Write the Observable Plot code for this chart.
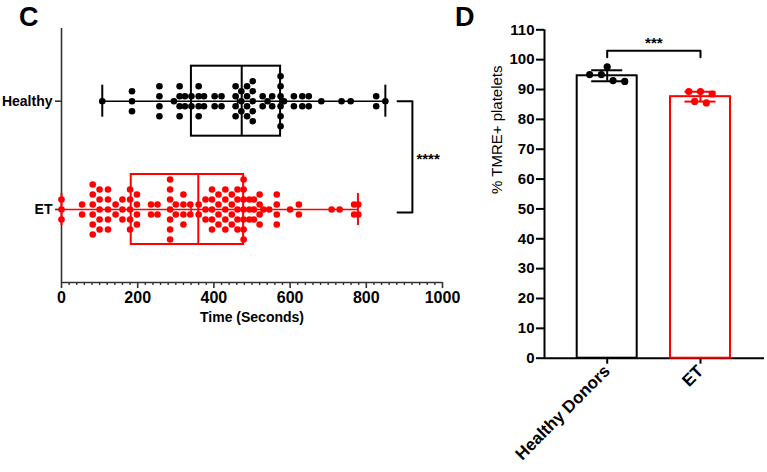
<!DOCTYPE html>
<html lang="en"><head><meta charset="utf-8"><title>Platelet TMRE</title>
<script src="https://cdn.jsdelivr.net/npm/d3@7"></script>
<script src="https://cdn.jsdelivr.net/npm/@observablehq/plot@0.6"></script>
<style>
html,body{margin:0;padding:0;background:#fff;}
#wrap{position:relative;width:767px;height:472px;overflow:hidden;font-family:"Liberation Sans",Arial,Helvetica,sans-serif;}
.panel{position:absolute;top:0;}
.tag{position:absolute;top:4px;font-size:27px;font-weight:bold;line-height:1;color:#000;}
</style></head><body>
<div id="wrap">
  <div id="panelC" class="panel" style="left:0px"></div>
  <div id="panelD" class="panel" style="left:455px"></div>
  <div class="tag" style="left:19px">C</div>
  <div class="tag" style="left:455px">D</div>
</div>
<script>
// ---------------- data: panel C ----------------
const rowNames = ["ET", "Healthy"];              // row index 0 = ET, 1 = Healthy
const healthyTimes = [107, 185,185,185, 257,257,257,257, 295, 310,310,310,310, 324,324,
  341,341, 360,360,360,360, 374,374, 402,402, 420,420, 457,457,457,457, 472,472,472,
  487,487,487,487, 502,502,502,502,502, 528,528, 541, 553,553, 575,575,575,575,575,575,
  584, 610,610, 632,632, 649,649, 682, 735, 759, 826,826, 850];
const etTimes = [0,0,0, 54,54, 82,82,82,82,82,82, 100,100,100,100,100, 122,122,122,122,122,
  142,142, 160,160,160, 180,180,180,180,180, 198,198,198,198, 235,235, 252,252,
  285,285,285,285,285,285,285, 300,300, 320,320,320,320, 338,338, 360,360, 378,378,378,
  395,395,395,395,395, 412,412,412,412, 430,430,430,430,430, 447,447,447,447,
  462,462,462,462,462, 478,478,478,478,478,478,478, 493,493,493, 505,505,505,
  520,520,520,520, 530, 545, 565,565,565,565, 600, 623,623, 709, 730, 768,768, 779,779];
const boxGroups = ["Healthy", "ET"];
const boxMin    = [107, 0];
const boxQ1     = [341, 183];
const boxMedian = [473, 359];
const boxQ3     = [575, 478];
const boxMax    = [850, 778];
const boxMean   = [462, 340];
const timeTicks = [0, 200, 400, 600, 800, 1000];
const timeLabel = "Time (Seconds)";
const sigC = "****";
const sigCx = [882, 921];

// ---------------- data: panel D ----------------
const donorGroups = ["Healthy Donors", "ET"];
const tmreMean = [94.6, 87.6];
const tmreSD   = [1.84, 1.65];
const tmreHealthy = [97.6, 95.0, 95.0, 93.0, 92.7];
const tmreET      = [89.3, 89.3, 88.5, 86.0, 85.5];
const tmreTicks = [0,10,20,30,40,50,60,70,80,90,100,110];
const tmreLabel = "% TMRE+ platelets";
const sigD = "***";

const colorOf = {Healthy: "#000000", ET: "#ff0000"};
const FONT = "Liberation Sans, Arial, Helvetica, sans-serif";

// ---------------- panel C ----------------
{
  const W = 472, H = 330, mL = 61, mR = 30, mT = 28, mB = 48;
  const yDom = [-0.674, 1.671];
  const pxPerRow = (H - mT - mB) / (yDom[1] - yDom[0]);
  const u = px => px / pxPerRow;
  const slot = u(10);
  function stack(values, row, group) {
    const counts = d3.rollup(values, v => v.length, d => d);
    const out = [];
    for (const [v, n] of counts) for (let i = 0; i < n; i++)
      out.push({group, v, y: row + (i - (n - 1) / 2) * slot});
    return out;
  }
  const pts = {Healthy: stack(healthyTimes, 1, "Healthy"), ET: stack(etTimes, 0, "ET")};
  const minor = d3.range(0, 1001, 20).filter(v => v % 200 !== 0);
  const marks = [
    Plot.ruleX([0], {stroke: "#333", strokeWidth: 1.6}),
    Plot.ruleY([yDom[0]], {stroke: "#333", strokeWidth: 1.6}),
    Plot.axisX({ticks: minor, tickSize: 3, tickFormat: () => "", label: null, stroke: "#333", strokeWidth: 1.4}),
    Plot.axisX({ticks: timeTicks, tickSize: 6, tickPadding: 3, tickFormat: d => String(d), label: null, fontSize: 16, fontWeight: "bold", stroke: "#333", strokeWidth: 1.6}),
    Plot.axisY({ticks: [0, 1], tickFormat: i => rowNames[i], tickSize: 6, tickPadding: 3, label: null, fontSize: 14, fontWeight: "bold", stroke: "#333", strokeWidth: 1.6}),
    Plot.text([timeLabel], {frameAnchor: "bottom", dy: 39, fontSize: 14, fontWeight: "bold"})
  ];
  boxGroups.forEach((g, i) => {
    const row = rowNames.indexOf(g), col = colorOf[g];
    const hb = u(35), hc = u(16), hm = u(6);
    marks.push(
      Plot.ruleY([{y: row, x1: boxMin[i], x2: boxMax[i]}], {y: "y", x1: "x1", x2: "x2", stroke: col, strokeWidth: 1.6}),
      Plot.ruleX([boxMin[i], boxMax[i]], {x: d => d, y1: () => row - hc, y2: () => row + hc, stroke: col, strokeWidth: 2}),
      Plot.rect([{x1: boxQ1[i], x2: boxQ3[i], y1: row - hb, y2: row + hb}], {x1: "x1", x2: "x2", y1: "y1", y2: "y2", fill: "none", stroke: col, strokeWidth: 2}),
      Plot.ruleX([boxMedian[i]], {x: d => d, y1: () => row - hb, y2: () => row + hb, stroke: col, strokeWidth: 2}),
      Plot.ruleX([boxMean[i]], {x: d => d, y1: () => row - hm, y2: () => row + hm, stroke: col, strokeWidth: 1.5}),
      Plot.dot(pts[g], {x: "v", y: "y", r: 3.3, fill: col, stroke: null})
    );
  });
  const yb = 0 - u(3);
  marks.push(
    Plot.line([{x: sigCx[0], y: 1}, {x: sigCx[1], y: 1}, {x: sigCx[1], y: yb}, {x: sigCx[0], y: yb}], {x: "x", y: "y", stroke: "#000", strokeWidth: 2}),
    Plot.text([sigC], {x: () => sigCx[1], y: () => 0.5, dx: 4, dy: 4, textAnchor: "start", fontSize: 15, fontWeight: "bold"})
  );
  const svg = Plot.plot({
    width: W, height: H, marginLeft: mL, marginRight: mR, marginTop: mT, marginBottom: mB,
    style: {background: "transparent", fontFamily: FONT, color: "#000"},
    x: {domain: [0, 1000], label: null},
    y: {domain: yDom, label: null},
    marks
  });
  document.getElementById("panelC").appendChild(svg);
}

// ---------------- panel D ----------------
{
  const W = 312, H = 472, mL = 89, mR = 3, mT = 29.3, mB = 114.3;
  const xDom = [0.328, 2.686];
  const pxPerX = (W - mL - mR) / (xDom[1] - xDom[0]);
  const pxPerY = (H - mT - mB) / 110;
  const ux = px => px / pxPerX;
  function spread(values, center) {
    const s = values.slice().sort((a, b) => b - a);
    const clusters = [];
    let cur = [s[0]];
    for (let k = 1; k < s.length; k++) {
      if ((cur[cur.length - 1] - s[k]) * pxPerY < 6.5) cur.push(s[k]);
      else { clusters.push(cur); cur = [s[k]]; }
    }
    clusters.push(cur);
    const out = [];
    for (const c of clusters) c.forEach((v, j) => out.push({x: center + (j - (c.length - 1) / 2) * ux(11.7), y: v}));
    return out;
  }
  const series = [tmreHealthy, tmreET];
  const cols = [colorOf.Healthy, colorOf.ET];
  const marks = [
    Plot.ruleX([xDom[0]], {stroke: "#000", strokeWidth: 2}),
    Plot.ruleY([0], {stroke: "#000", strokeWidth: 2}),
    Plot.axisY({ticks: tmreTicks, tickSize: 8, tickPadding: 2, label: null, fontSize: 15, fontWeight: "bold", strokeWidth: 2}),
    Plot.axisX({ticks: [1, 2], tickFormat: i => donorGroups[i - 1], tickRotate: -45, tickSize: 6, tickPadding: 4, label: null, fontSize: 17, fontWeight: "bold", strokeWidth: 2}),
    Plot.text([tmreLabel], {frameAnchor: "left", dx: -47, rotate: -90, fontSize: 15})
  ];
  donorGroups.forEach((g, i) => {
    const c = i + 1, col = cols[i], hw = ux(30), hcap = ux(15.5);
    marks.push(
      Plot.rect([{x1: c - hw, x2: c + hw, y1: 0, y2: tmreMean[i]}], {x1: "x1", x2: "x2", y1: "y1", y2: "y2", fill: "white", stroke: col, strokeWidth: 2}),
      Plot.ruleX([{x: c, y1: tmreMean[i] - tmreSD[i], y2: tmreMean[i] + tmreSD[i]}], {x: "x", y1: "y1", y2: "y2", stroke: col, strokeWidth: 2}),
      Plot.ruleY([tmreMean[i] - tmreSD[i], tmreMean[i] + tmreSD[i]], {y: d => d, x1: () => c - hcap, x2: () => c + hcap, stroke: col, strokeWidth: 2}),
      Plot.dot(spread(series[i], c), {x: "x", y: "y", r: 3.6, fill: col, stroke: null})
    );
  });
  marks.push(
    Plot.line([{x: 1, y: 100.8}, {x: 1, y: 103}, {x: 2, y: 103}, {x: 2, y: 100.8}], {x: "x", y: "y", stroke: "#000", strokeWidth: 2}),
    Plot.text([sigD], {x: () => 1.5, y: () => 106.4, dy: 3, fontSize: 15, fontWeight: "bold"})
  );
  const svg = Plot.plot({
    width: W, height: H, marginLeft: mL, marginRight: mR, marginTop: mT, marginBottom: mB,
    style: {background: "transparent", fontFamily: FONT, color: "#000"},
    x: {domain: xDom, label: null},
    y: {domain: [0, 110], label: null},
    marks
  });
  document.getElementById("panelD").appendChild(svg);
}
</script>
</body></html>
